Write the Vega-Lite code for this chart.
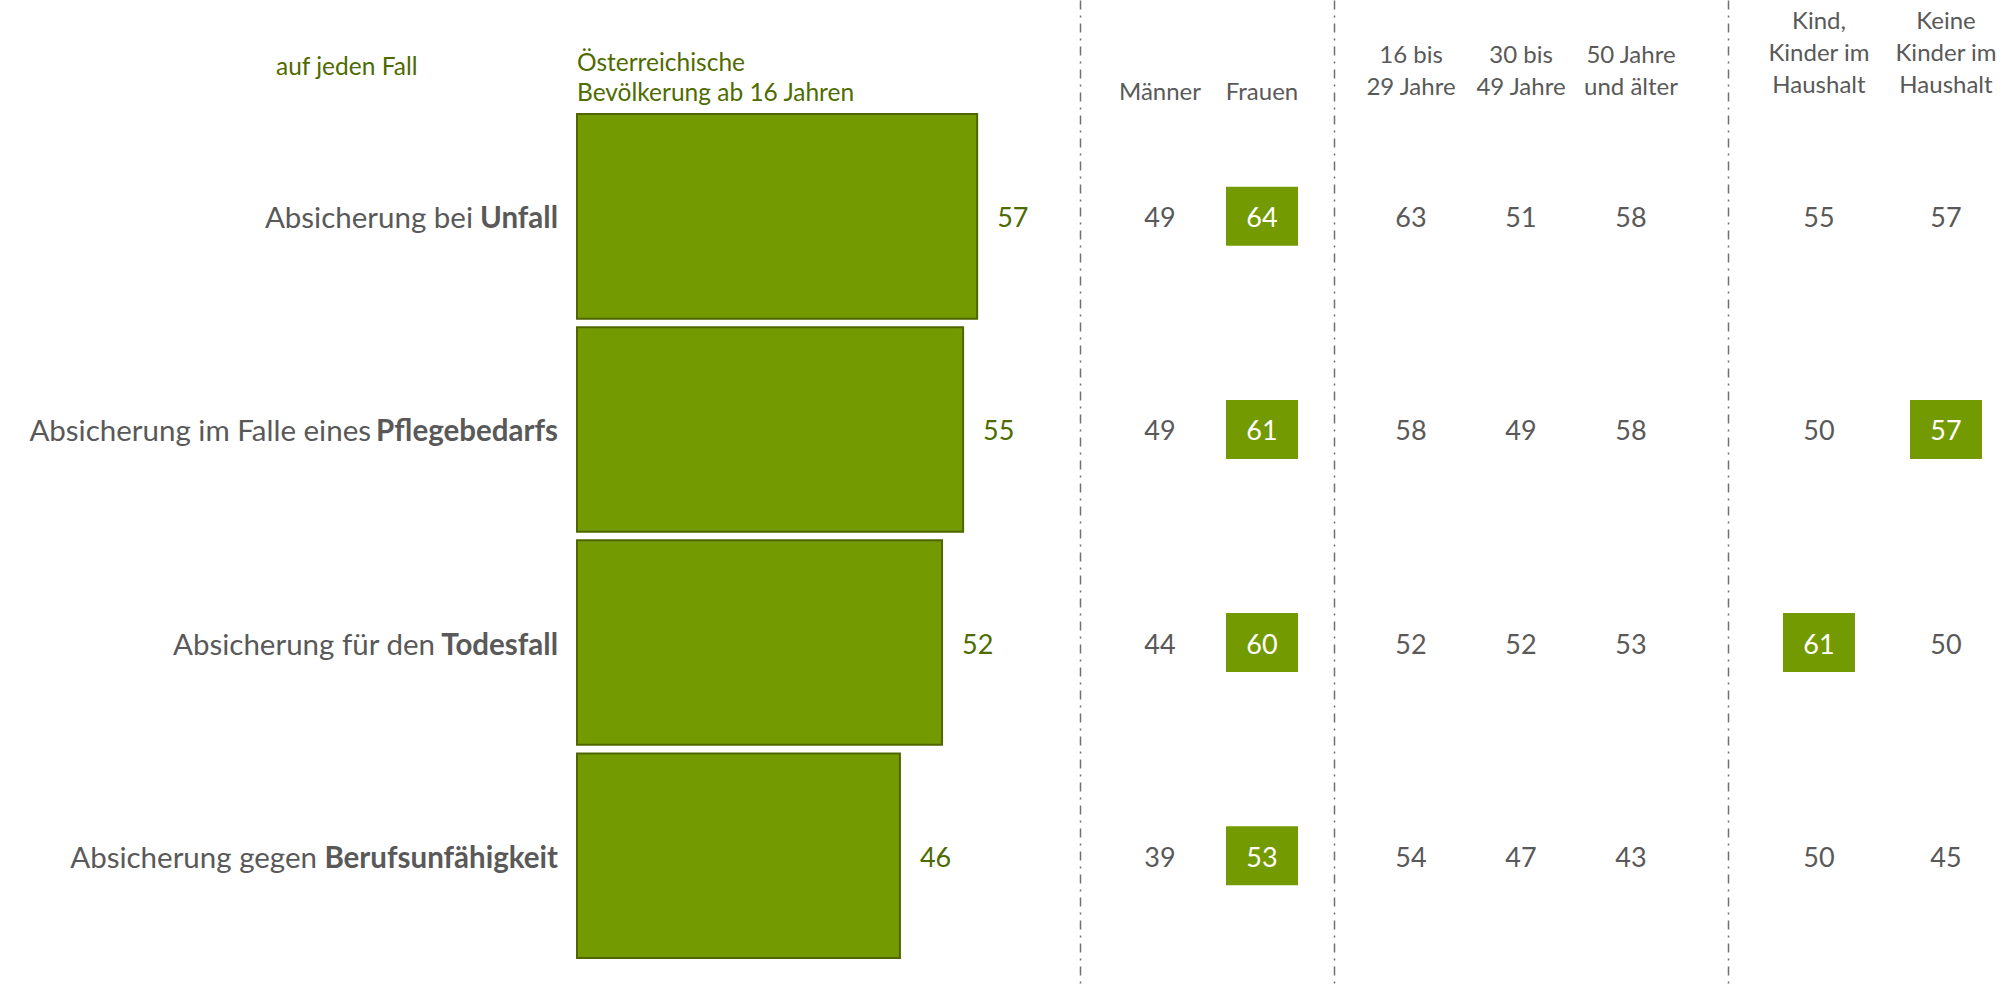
{
  "$schema": "https://vega.github.io/schema/vega-lite/v6.json",
  "padding": 0,
  "spacing": 0,
  "bounds": "flush",
  "config": {
    "view": {"stroke": null},
    "font": "Lato",
    "axis": {"grid": false}
  },
  "datasets": {
    "zeilen": [
      {"kategorie": "Absicherung bei Unfall", "normal": "Absicherung bei", "fett": "Unfall", "gesamt": 57},
      {"kategorie": "Absicherung im Falle eines Pflegebedarfs", "normal": "Absicherung im Falle eines", "fett": "Pflegebedarfs", "gesamt": 55},
      {"kategorie": "Absicherung für den Todesfall", "normal": "Absicherung für den", "fett": "Todesfall", "gesamt": 52},
      {"kategorie": "Absicherung gegen Berufsunfähigkeit", "normal": "Absicherung gegen", "fett": "Berufsunfähigkeit", "gesamt": 46}
    ],
    "zellen": [
      {"kategorie": "Absicherung bei Unfall", "gruppe": "geschlecht", "spalte": "Männer", "wert": 49, "hervor": false},
      {"kategorie": "Absicherung bei Unfall", "gruppe": "geschlecht", "spalte": "Frauen", "wert": 64, "hervor": true},
      {"kategorie": "Absicherung bei Unfall", "gruppe": "alter", "spalte": "16 bis\n29 Jahre", "wert": 63, "hervor": false},
      {"kategorie": "Absicherung bei Unfall", "gruppe": "alter", "spalte": "30 bis\n49 Jahre", "wert": 51, "hervor": false},
      {"kategorie": "Absicherung bei Unfall", "gruppe": "alter", "spalte": "50 Jahre\nund älter", "wert": 58, "hervor": false},
      {"kategorie": "Absicherung bei Unfall", "gruppe": "kinder", "spalte": "Kind,\nKinder im\nHaushalt", "wert": 55, "hervor": false},
      {"kategorie": "Absicherung bei Unfall", "gruppe": "kinder", "spalte": "Keine\nKinder im\nHaushalt", "wert": 57, "hervor": false},

      {"kategorie": "Absicherung im Falle eines Pflegebedarfs", "gruppe": "geschlecht", "spalte": "Männer", "wert": 49, "hervor": false},
      {"kategorie": "Absicherung im Falle eines Pflegebedarfs", "gruppe": "geschlecht", "spalte": "Frauen", "wert": 61, "hervor": true},
      {"kategorie": "Absicherung im Falle eines Pflegebedarfs", "gruppe": "alter", "spalte": "16 bis\n29 Jahre", "wert": 58, "hervor": false},
      {"kategorie": "Absicherung im Falle eines Pflegebedarfs", "gruppe": "alter", "spalte": "30 bis\n49 Jahre", "wert": 49, "hervor": false},
      {"kategorie": "Absicherung im Falle eines Pflegebedarfs", "gruppe": "alter", "spalte": "50 Jahre\nund älter", "wert": 58, "hervor": false},
      {"kategorie": "Absicherung im Falle eines Pflegebedarfs", "gruppe": "kinder", "spalte": "Kind,\nKinder im\nHaushalt", "wert": 50, "hervor": false},
      {"kategorie": "Absicherung im Falle eines Pflegebedarfs", "gruppe": "kinder", "spalte": "Keine\nKinder im\nHaushalt", "wert": 57, "hervor": true},

      {"kategorie": "Absicherung für den Todesfall", "gruppe": "geschlecht", "spalte": "Männer", "wert": 44, "hervor": false},
      {"kategorie": "Absicherung für den Todesfall", "gruppe": "geschlecht", "spalte": "Frauen", "wert": 60, "hervor": true},
      {"kategorie": "Absicherung für den Todesfall", "gruppe": "alter", "spalte": "16 bis\n29 Jahre", "wert": 52, "hervor": false},
      {"kategorie": "Absicherung für den Todesfall", "gruppe": "alter", "spalte": "30 bis\n49 Jahre", "wert": 52, "hervor": false},
      {"kategorie": "Absicherung für den Todesfall", "gruppe": "alter", "spalte": "50 Jahre\nund älter", "wert": 53, "hervor": false},
      {"kategorie": "Absicherung für den Todesfall", "gruppe": "kinder", "spalte": "Kind,\nKinder im\nHaushalt", "wert": 61, "hervor": true},
      {"kategorie": "Absicherung für den Todesfall", "gruppe": "kinder", "spalte": "Keine\nKinder im\nHaushalt", "wert": 50, "hervor": false},

      {"kategorie": "Absicherung gegen Berufsunfähigkeit", "gruppe": "geschlecht", "spalte": "Männer", "wert": 39, "hervor": false},
      {"kategorie": "Absicherung gegen Berufsunfähigkeit", "gruppe": "geschlecht", "spalte": "Frauen", "wert": 53, "hervor": true},
      {"kategorie": "Absicherung gegen Berufsunfähigkeit", "gruppe": "alter", "spalte": "16 bis\n29 Jahre", "wert": 54, "hervor": false},
      {"kategorie": "Absicherung gegen Berufsunfähigkeit", "gruppe": "alter", "spalte": "30 bis\n49 Jahre", "wert": 47, "hervor": false},
      {"kategorie": "Absicherung gegen Berufsunfähigkeit", "gruppe": "alter", "spalte": "50 Jahre\nund älter", "wert": 43, "hervor": false},
      {"kategorie": "Absicherung gegen Berufsunfähigkeit", "gruppe": "kinder", "spalte": "Kind,\nKinder im\nHaushalt", "wert": 50, "hervor": false},
      {"kategorie": "Absicherung gegen Berufsunfähigkeit", "gruppe": "kinder", "spalte": "Keine\nKinder im\nHaushalt", "wert": 45, "hervor": false}
    ]
  },
  "hconcat": [
    {
      "width": 577,
      "height": 988,
      "data": {"name": "zeilen"},
      "title": {"text": "auf jeden Fall", "anchor": "start", "frame": "group", "dx": 276, "baseline": "bottom", "offset": -104, "fontSize": 24.5, "fontWeight": "normal", "color": "#4e6b00"},
      "encoding": {
        "y": {"field": "kategorie", "type": "nominal", "scale": {"type": "band", "domain": ["Absicherung bei Unfall", "Absicherung im Falle eines Pflegebedarfs", "Absicherung für den Todesfall", "Absicherung gegen Berufsunfähigkeit"], "paddingInner": 0.04, "paddingOuter": 0.3379, "align": 0.7917}, "axis": null},
        "x": {"value": "width"}
      },
      "layer": [
        {"mark": {"type": "text", "align": "right", "baseline": "middle", "dx": -19, "dy": 3, "fontSize": 29.5, "fontWeight": "bold", "color": "#595959"}, "encoding": {"text": {"field": "fett"}}},
        {"transform": [{"filter": "datum.fett === 'Unfall'"}], "mark": {"type": "text", "align": "right", "baseline": "middle", "dx": -104, "dy": 3, "fontSize": 29.5, "color": "#595959"}, "encoding": {"text": {"field": "normal"}}},
        {"transform": [{"filter": "datum.fett === 'Pflegebedarfs'"}], "mark": {"type": "text", "align": "right", "baseline": "middle", "dx": -206, "dy": 3, "fontSize": 29.5, "color": "#595959"}, "encoding": {"text": {"field": "normal"}}},
        {"transform": [{"filter": "datum.fett === 'Todesfall'"}], "mark": {"type": "text", "align": "right", "baseline": "middle", "dx": -142, "dy": 3, "fontSize": 29.5, "color": "#595959"}, "encoding": {"text": {"field": "normal"}}},
        {"transform": [{"filter": "datum.fett === 'Berufsunfähigkeit'"}], "mark": {"type": "text", "align": "right", "baseline": "middle", "dx": -260, "dy": 3, "fontSize": 29.5, "color": "#595959"}, "encoding": {"text": {"field": "normal"}}}
      ]
    },
    {
      "width": 503,
      "height": 988,
      "data": {"name": "zeilen"},
      "title": {"text": ["Österreichische", "Bevölkerung ab 16 Jahren"], "anchor": "start", "frame": "group", "baseline": "bottom", "offset": -130, "fontSize": 24.5, "lineHeight": 30, "fontWeight": "normal", "color": "#4e6b00"},
      "encoding": {
        "y": {"field": "kategorie", "type": "nominal", "scale": {"type": "band", "domain": ["Absicherung bei Unfall", "Absicherung im Falle eines Pflegebedarfs", "Absicherung für den Todesfall", "Absicherung gegen Berufsunfähigkeit"], "paddingInner": 0.04, "paddingOuter": 0.3379, "align": 0.7917}, "axis": null},
        "x": {"field": "gesamt", "type": "quantitative", "scale": {"domain": [0, 71.65], "nice": false, "zero": true}, "axis": null}
      },
      "layer": [
        {"mark": {"type": "bar", "color": "#739a00", "stroke": "#4f6600", "strokeWidth": 2}},
        {"mark": {"type": "text", "align": "left", "baseline": "middle", "dx": 20, "dy": 3, "fontSize": 27, "color": "#4e6b00"}, "encoding": {"text": {"field": "gesamt"}}}
      ]
    },
    {
      "width": 254,
      "height": 988,
      "data": {"name": "zellen"},
      "transform": [{"filter": "datum.gruppe === 'geschlecht'"}],
      "encoding": {
        "x": {"field": "spalte", "type": "nominal", "scale": {"type": "band", "domain": ["Männer", "Frauen"], "paddingInner": 0, "paddingOuter": 0.245, "align": 0.58}, "axis": {"orient": "top", "title": null, "labelExpr": "split(datum.label, '\\n')", "offset": -104, "domain": false, "ticks": false, "tickSize": 0, "labelPadding": 0, "labelAngle": 0, "labelBaseline": "bottom", "labelFontSize": 24, "labelLineHeight": 32, "labelColor": "#595959", "labelOverlap": false, "labelBound": false, "labelFlush": false}},
        "y": {"field": "kategorie", "type": "nominal", "scale": {"type": "band", "domain": ["Absicherung bei Unfall", "Absicherung im Falle eines Pflegebedarfs", "Absicherung für den Todesfall", "Absicherung gegen Berufsunfähigkeit"], "paddingInner": 0.04, "paddingOuter": 0.3379, "align": 0.7917}, "axis": {"orient": "left", "title": null, "labels": false, "ticks": false, "domain": true, "domainColor": "#707070", "domainWidth": 1.5, "domainDash": [9, 6, 2, 6]}}
      },
      "layer": [
        {"transform": [{"filter": "datum.hervor"}], "mark": {"type": "rect", "width": 72, "height": 59, "color": "#739a00"}},
        {"mark": {"type": "text", "baseline": "middle", "dy": 3, "fontSize": 27}, "encoding": {"text": {"field": "wert"}, "color": {"condition": {"test": "datum.hervor", "value": "#ffffff"}, "value": "#595959"}}}
      ]
    },
    {
      "width": 394,
      "height": 988,
      "data": {"name": "zellen"},
      "transform": [{"filter": "datum.gruppe === 'alter'"}],
      "encoding": {
        "x": {"field": "spalte", "type": "nominal", "scale": {"type": "band", "domain": ["16 bis\n29 Jahre", "30 bis\n49 Jahre", "50 Jahre\nund älter"], "paddingInner": 0, "paddingOuter": 0.291, "align": 0.344}, "axis": {"orient": "top", "title": null, "labelExpr": "split(datum.label, '\\n')", "offset": -67, "domain": false, "ticks": false, "tickSize": 0, "labelPadding": 0, "labelAngle": 0, "labelBaseline": "bottom", "labelFontSize": 24, "labelLineHeight": 32, "labelColor": "#595959", "labelOverlap": false, "labelBound": false, "labelFlush": false}},
        "y": {"field": "kategorie", "type": "nominal", "scale": {"type": "band", "domain": ["Absicherung bei Unfall", "Absicherung im Falle eines Pflegebedarfs", "Absicherung für den Todesfall", "Absicherung gegen Berufsunfähigkeit"], "paddingInner": 0.04, "paddingOuter": 0.3379, "align": 0.7917}, "axis": {"orient": "left", "title": null, "labels": false, "ticks": false, "domain": true, "domainColor": "#707070", "domainWidth": 1.5, "domainDash": [9, 6, 2, 6]}}
      },
      "layer": [
        {"transform": [{"filter": "datum.hervor"}], "mark": {"type": "rect", "width": 72, "height": 59, "color": "#739a00"}},
        {"mark": {"type": "text", "baseline": "middle", "dy": 3, "fontSize": 27}, "encoding": {"text": {"field": "wert"}, "color": {"condition": {"test": "datum.hervor", "value": "#ffffff"}, "value": "#595959"}}}
      ]
    },
    {
      "width": 283,
      "height": 988,
      "data": {"name": "zellen"},
      "transform": [{"filter": "datum.gruppe === 'kinder'"}],
      "encoding": {
        "x": {"field": "spalte", "type": "nominal", "scale": {"type": "band", "domain": ["Kind,\nKinder im\nHaushalt", "Keine\nKinder im\nHaushalt"], "paddingInner": 0, "paddingOuter": 0.114, "align": 0.948}, "axis": {"orient": "top", "title": null, "labelExpr": "split(datum.label, '\\n')", "offset": -33, "domain": false, "ticks": false, "tickSize": 0, "labelPadding": 0, "labelAngle": 0, "labelBaseline": "bottom", "labelFontSize": 24, "labelLineHeight": 32, "labelColor": "#595959", "labelOverlap": false, "labelBound": false, "labelFlush": false}},
        "y": {"field": "kategorie", "type": "nominal", "scale": {"type": "band", "domain": ["Absicherung bei Unfall", "Absicherung im Falle eines Pflegebedarfs", "Absicherung für den Todesfall", "Absicherung gegen Berufsunfähigkeit"], "paddingInner": 0.04, "paddingOuter": 0.3379, "align": 0.7917}, "axis": {"orient": "left", "title": null, "labels": false, "ticks": false, "domain": true, "domainColor": "#707070", "domainWidth": 1.5, "domainDash": [9, 6, 2, 6]}}
      },
      "layer": [
        {"transform": [{"filter": "datum.hervor"}], "mark": {"type": "rect", "width": 72, "height": 59, "color": "#739a00"}},
        {"mark": {"type": "text", "baseline": "middle", "dy": 3, "fontSize": 27}, "encoding": {"text": {"field": "wert"}, "color": {"condition": {"test": "datum.hervor", "value": "#ffffff"}, "value": "#595959"}}}
      ]
    }
  ]
}
